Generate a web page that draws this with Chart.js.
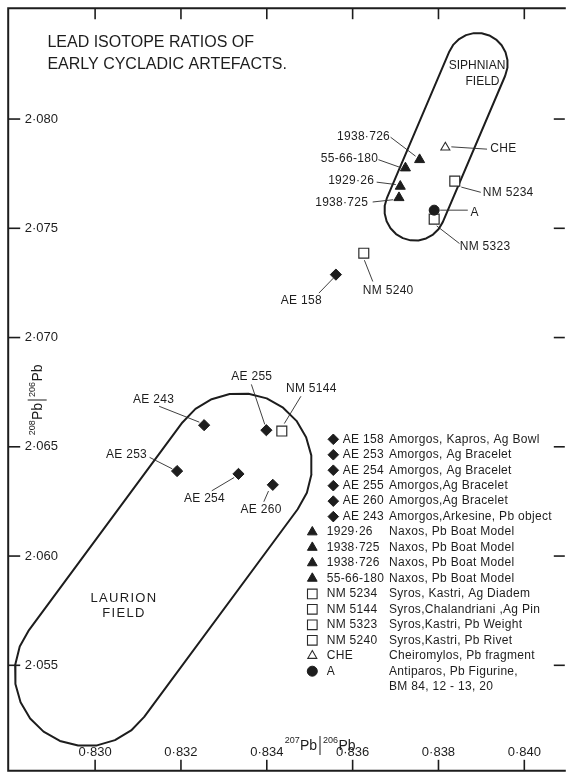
<!DOCTYPE html>
<html>
<head>
<meta charset="utf-8">
<title>Lead isotope ratios of Early Cycladic artefacts</title>
<script src="https://cdn.jsdelivr.net/npm/chart.js@4.4.1/dist/chart.umd.min.js"></script>
<style>
html,body{margin:0;padding:0;background:#ffffff;}
#wrap{position:relative;width:572px;height:779px;}
canvas{display:block;}
</style>
</head>
<body>
<div id="wrap"><canvas id="chart" width="572" height="779"></canvas></div>
<script>
// ---------- axes ----------
const xTicks = [0.830, 0.832, 0.834, 0.836, 0.838, 0.840];
const xTickLabels = ['0·830', '0·832', '0·834', '0·836', '0·838', '0·840'];
const yTicks = [2.055, 2.060, 2.065, 2.070, 2.075, 2.080];
const yTickLabels = ['2·055', '2·060', '2·065', '2·070', '2·075', '2·080'];
const xRange = [0.827975, 0.840920];
const yRange = [2.050172, 2.085073];

// ---------- series ----------
const amorgosCodes = ['AE 158', 'AE 253', 'AE 254', 'AE 255', 'AE 260', 'AE 243'];
const amorgosDesc = ['Amorgos, Kapros, Ag Bowl', 'Amorgos, Ag Bracelet', 'Amorgos, Ag Bracelet',
  'Amorgos,Ag Bracelet', 'Amorgos,Ag Bracelet', 'Amorgos,Arkesine, Pb object'];
const amorgosX = [0.83561, 0.83191, 0.83334, 0.83399, 0.83414, 0.83254];
const amorgosY = [2.07288, 2.06389, 2.06376, 2.06576, 2.06326, 2.06599];

const naxosCodes = ['1929·26', '1938·725', '1938·726', '55-66-180'];
const naxosDesc = ['Naxos, Pb Boat Model', 'Naxos, Pb Boat Model', 'Naxos, Pb Boat Model', 'Naxos, Pb Boat Model'];
const naxosX = [0.83711, 0.83708, 0.83756, 0.83723];
const naxosY = [2.07692, 2.07640, 2.07814, 2.07776];

const syrosCodes = ['NM 5234', 'NM 5144', 'NM 5323', 'NM 5240'];
const syrosDesc = ['Syros, Kastri, Ag Diadem', 'Syros,Chalandriani ,Ag Pin', 'Syros,Kastri, Pb Weight', 'Syros,Kastri, Pb Rivet'];
const syrosX = [0.83838, 0.83435, 0.83790, 0.83626];
const syrosY = [2.07716, 2.06572, 2.07542, 2.07386];

const cheCodes = ['CHE'];
const cheDesc = ['Cheiromylos, Pb fragment'];
const cheX = [0.83816];
const cheY = [2.07870];

const antiparosCodes = ['A'];
const antiparosDesc = ['Antiparos, Pb Figurine,', 'BM 84, 12 - 13, 20'];
const antiparosX = [0.83790];
const antiparosY = [2.07583];

// ---------- field outlines ----------
const siphnianX = [0.839554, 0.839605, 0.839607, 0.839562, 0.839472, 0.839343, 0.839184, 0.839006, 0.838822,
  0.838642, 0.838481, 0.838348, 0.838254, 0.836800, 0.836749, 0.836747, 0.836792, 0.836882, 0.837011, 0.837170,
  0.837348, 0.837532, 0.837712, 0.837873, 0.838005, 0.838100, 0.839554];
const siphnianY = [2.081982, 2.082336, 2.082702, 2.083057, 2.083376, 2.083639, 2.083827, 2.083927, 2.083932,
  2.083842, 2.083663, 2.083407, 2.083093, 2.076394, 2.076040, 2.075674, 2.075319, 2.075000, 2.074736, 2.074549,
  2.074449, 2.074445, 2.074534, 2.074713, 2.074969, 2.075283, 2.081982];
const laurionX = [0.834719, 0.834934, 0.835041, 0.835037, 0.834916, 0.834692, 0.834379, 0.833998, 0.833573,
  0.833135, 0.832715, 0.832338, 0.832034, 0.828459, 0.828244, 0.828137, 0.828143, 0.828263, 0.828486, 0.828799,
  0.829180, 0.829605, 0.830043, 0.830463, 0.830840, 0.831144, 0.834719];
const laurionY = [2.062141, 2.062896, 2.063739, 2.064607, 2.065440, 2.066187, 2.066789, 2.067215, 2.067428,
  2.067414, 2.067178, 2.066735, 2.066115, 2.056614, 2.055857, 2.055016, 2.054146, 2.053313, 2.052566, 2.051964,
  2.051539, 2.051326, 2.051335, 2.051575, 2.052019, 2.052639, 2.062141];

// ---------- styling / layout (not data) ----------
const INK = '#1d1d1d';
const FONT = '"Liberation Sans", Arial, Helvetica, sans-serif';

// label placement: text offset, alignment and leader line ends, in pixels relative to the mark
const labelLayout = {
  'AE 158':   {t: [-14, 26],    a: 'right',  l: [[-2.5, 3.5], [-17, 18.5]]},
  'AE 253':   {t: [-30, -16.3], a: 'right',  l: [[-27.5, -13.7], [-4.8, -2.2]]},
  'AE 254':   {t: [-34, 24.5],  a: 'center', l: [[-26.7, 16.9], [-4.3, 3.6]]},
  'AE 255':   {t: [-14.6, -53.5], a: 'center', l: [[-15, -45.8], [-1.6, -5.8]]},
  'AE 260':   {t: [-11.7, 24.9], a: 'center', l: [[-9, 16.9], [-4.3, 6.2]]},
  'AE 243':   {t: [-30, -25.6], a: 'right',  l: [[-45, -18.9], [-4.8, -3]]},
  '1929·26':  {t: [-26, -5.2],  a: 'right',  l: [[-23.6, -4.2], [-4.5, -1.8]]},
  '1938·725': {t: [-30.7, 5.3], a: 'right',  l: [[-26.3, 4.3], [-5.7, 2]]},
  '1938·726': {t: [-29.5, -22.8], a: 'right', l: [[-29, -22.5], [-4, -3.5]]},
  '55-66-180': {t: [-27.2, -9], a: 'right',  l: [[-27, -8.3], [-5, -0.5]]},
  'NM 5234':  {t: [28, 11.2],   a: 'left',   l: [[6.5, 6], [26, 11.2]]},
  'NM 5144':  {t: [29.5, -42.2], a: 'center', l: [[19.1, -34.8], [2.5, -7.5]]},
  'NM 5323':  {t: [25.5, 27.7], a: 'left',   l: [[2.5, 6.8], [25.3, 24.4]]},
  'NM 5240':  {t: [-1, 37.6],   a: 'left',   l: [[0.6, 7], [9, 28.3]]},
  'CHE':      {t: [45, 1.7],    a: 'left',   l: [[6, -0.6], [41.7, 1.7]]},
  'A':        {t: [36.3, 2.5],  a: 'left',   l: [[6, 0], [33.6, 0]]}
};

const pts = (xs, ys) => xs.map((x, i) => ({x: x, y: ys[i]}));

function seg(ctx, x1, y1, x2, y2) {
  ctx.beginPath(); ctx.moveTo(x1, y1); ctx.lineTo(x2, y2); ctx.stroke();
}

function drawIso(ctx, m1, m2, cx, base) {
  const big = '14px ' + FONT, small = '9px ' + FONT;
  ctx.font = small;
  const w1 = ctx.measureText(m1).width;
  const w2 = ctx.measureText(m2).width;
  ctx.font = big;
  const wP = ctx.measureText('Pb').width;
  const gap = 3;
  ctx.textAlign = 'left'; ctx.textBaseline = 'alphabetic';
  let x = cx - gap - wP - w1;
  ctx.font = small; ctx.fillText(m1, x, base - 7); x += w1;
  ctx.font = big; ctx.fillText('Pb', x, base);
  ctx.lineWidth = 1;
  seg(ctx, cx, base - 14, cx, base + 5);
  x = cx + gap;
  ctx.font = small; ctx.fillText(m2, x, base - 7); x += w2 + 0.5;
  ctx.font = big; ctx.fillText('Pb', x, base);
}

function marker(ctx, style, x, y, r, fill, stroke, bw) {
  ctx.save();
  ctx.fillStyle = fill; ctx.strokeStyle = stroke; ctx.lineWidth = bw;
  if (Chart.helpers && Chart.helpers.drawPoint) {
    Chart.helpers.drawPoint(ctx, {pointStyle: style, radius: r, rotation: 0, borderWidth: bw}, x, y);
  } else {
    ctx.beginPath(); ctx.arc(x, y, r, 0, Math.PI * 2); ctx.fill(); ctx.stroke();
  }
  ctx.restore();
}

const legendGroups = [
  {codes: amorgosCodes, desc: amorgosDesc, style: 'rectRot', r: 5.3, fill: INK, stroke: INK, bw: 1, indent: true},
  {codes: naxosCodes, desc: naxosDesc, style: 'triangle', r: 5.6, fill: INK, stroke: INK, bw: 1, indent: false},
  {codes: syrosCodes, desc: syrosDesc, style: 'rect', r: 6.8, fill: '#ffffff', stroke: '#2a2a2a', bw: 1.1, indent: false},
  {codes: cheCodes, desc: cheDesc, style: 'triangle', r: 5.2, fill: '#ffffff', stroke: '#2a2a2a', bw: 1.1, indent: false},
  {codes: antiparosCodes, desc: antiparosDesc, style: 'circle', r: 5, fill: INK, stroke: INK, bw: 1, indent: false}
];

const decorPlugin = {
  id: 'decor',
  beforeDraw(chart) {
    const ctx = chart.ctx;
    ctx.save(); ctx.fillStyle = '#ffffff'; ctx.fillRect(0, 0, chart.width, chart.height); ctx.restore();
  },
  afterDraw(chart) {
    const ctx = chart.ctx, a = chart.chartArea;
    const sx = chart.scales.x, sy = chart.scales.y;
    ctx.save();
    ctx.strokeStyle = INK; ctx.fillStyle = INK;
    // frame (right edge runs off the picture)
    ctx.lineWidth = 2;
    ctx.beginPath();
    ctx.moveTo(a.right + 2, a.top);
    ctx.lineTo(a.left, a.top);
    ctx.lineTo(a.left, a.bottom);
    ctx.lineTo(a.right + 2, a.bottom);
    ctx.stroke();
    // inward ticks on all four sides
    ctx.lineWidth = 1.6;
    xTicks.forEach(v => {
      const x = sx.getPixelForValue(v);
      seg(ctx, x, a.bottom, x, a.bottom - 11);
      seg(ctx, x, a.top, x, a.top + 11);
    });
    yTicks.forEach(v => {
      const y = sy.getPixelForValue(v);
      seg(ctx, a.left, y, a.left + 12, y);
      seg(ctx, a.right + 1, y, a.right - 10, y);
    });
    // tick labels
    ctx.font = '13px ' + FONT;
    ctx.textBaseline = 'middle';
    ctx.textAlign = 'center';
    xTicks.forEach((v, i) => ctx.fillText(xTickLabels[i], sx.getPixelForValue(v), a.bottom - 18));
    ctx.textAlign = 'left';
    yTicks.forEach((v, i) => ctx.fillText(yTickLabels[i], a.left + 16.5, sy.getPixelForValue(v)));
    // axis titles
    drawIso(ctx, '207', '206', 320, 750);
    ctx.save();
    ctx.translate(41.7, 400);
    ctx.rotate(-Math.PI / 2);
    drawIso(ctx, '208', '206', 0, 0);
    ctx.restore();
    // chart title
    ctx.font = '16px ' + FONT;
    ctx.textAlign = 'left'; ctx.textBaseline = 'middle';
    ctx.fillText('LEAD ISOTOPE RATIOS OF', 47.4, 42.7);
    ctx.fillText('EARLY CYCLADIC ARTEFACTS.', 47.4, 65);
    // field names
    ctx.textAlign = 'center';
    ctx.font = '12px ' + FONT;
    ctx.fillText('SIPHNIAN', 477, 66);
    ctx.fillText('FIELD', 482.5, 81.7);
    ctx.font = '13px ' + FONT;
    ctx.letterSpacing = '1.3px';
    ctx.fillText('LAURION', 124, 598.3);
    ctx.fillText('FIELD', 124, 613.3);
    ctx.letterSpacing = '0px';
    // key
    const y0 = 439.3, step = 15.46;
    let row = 0;
    ctx.font = '12px ' + FONT;
    ctx.letterSpacing = '0.3px';
    legendGroups.forEach(g => {
      g.desc.forEach((d, i) => {
        const y = y0 + step * row;
        if (i < g.codes.length) {
          marker(ctx, g.style, g.indent ? 333.3 : 312.3, y, g.r, g.fill, g.stroke, g.bw);
          ctx.fillStyle = INK; ctx.textAlign = 'left'; ctx.textBaseline = 'middle';
          ctx.fillText(g.codes[i], g.indent ? 342.7 : 326.7, y);
        }
        ctx.fillStyle = INK; ctx.textAlign = 'left'; ctx.textBaseline = 'middle';
        ctx.fillText(d, 389, y);
        row++;
      });
    });
    ctx.letterSpacing = '0px';
    ctx.restore();
  }
};

const pointLabelPlugin = {
  id: 'pointLabels',
  afterDatasetsDraw(chart) {
    const ctx = chart.ctx;
    ctx.save();
    ctx.strokeStyle = '#2a2a2a'; ctx.fillStyle = INK; ctx.lineWidth = 0.9;
    ctx.font = '12px ' + FONT;
    ctx.letterSpacing = '0.3px';
    ctx.textBaseline = 'middle';
    chart.data.datasets.forEach((ds, di) => {
      if (!ds.codes) return;
      const meta = chart.getDatasetMeta(di);
      meta.data.forEach((el, i) => {
        const L = labelLayout[ds.codes[i]];
        if (!L) return;
        seg(ctx, el.x + L.l[0][0], el.y + L.l[0][1], el.x + L.l[1][0], el.y + L.l[1][1]);
        ctx.textAlign = L.a;
        ctx.fillText(ds.codes[i], el.x + L.t[0], el.y + L.t[1]);
      });
    });
    ctx.letterSpacing = '0px';
    ctx.restore();
  }
};

new Chart(document.getElementById('chart'), {
  type: 'scatter',
  data: {
    datasets: [
      {label: 'Antiparos', codes: antiparosCodes, data: pts(antiparosX, antiparosY), pointStyle: 'circle',
        pointRadius: 5, pointBackgroundColor: INK, pointBorderColor: INK, pointBorderWidth: 1},
      {label: 'Amorgos', codes: amorgosCodes, data: pts(amorgosX, amorgosY), pointStyle: 'rectRot',
        pointRadius: 5.6, pointBackgroundColor: INK, pointBorderColor: INK, pointBorderWidth: 1},
      {label: 'Naxos', codes: naxosCodes, data: pts(naxosX, naxosY), pointStyle: 'triangle',
        pointRadius: 5.8, pointBackgroundColor: INK, pointBorderColor: INK, pointBorderWidth: 1},
      {label: 'Cheiromylos', codes: cheCodes, data: pts(cheX, cheY), pointStyle: 'triangle',
        pointRadius: 5.2, pointBackgroundColor: '#ffffff', pointBorderColor: '#2a2a2a', pointBorderWidth: 1.1},
      {label: 'Syros', codes: syrosCodes, data: pts(syrosX, syrosY), pointStyle: 'rect',
        pointRadius: 7, pointBackgroundColor: '#ffffff', pointBorderColor: '#2a2a2a', pointBorderWidth: 1.2},
      {label: 'Siphnian field', data: pts(siphnianX, siphnianY), showLine: true, pointRadius: 0,
        borderColor: INK, borderWidth: 2, tension: 0, fill: false, borderJoinStyle: 'round'},
      {label: 'Laurion field', data: pts(laurionX, laurionY), showLine: true, pointRadius: 0,
        borderColor: INK, borderWidth: 2, tension: 0, fill: false, borderJoinStyle: 'round'}
    ]
  },
  options: {
    responsive: false,
    animation: false,
    devicePixelRatio: 1,
    layout: {padding: {left: 5, top: 4, right: 0, bottom: 4}},
    plugins: {legend: {display: false}, tooltip: {enabled: false}, title: {display: false}},
    events: [],
    scales: {
      x: {type: 'linear', min: xRange[0], max: xRange[1], display: false},
      y: {type: 'linear', min: yRange[0], max: yRange[1], display: false}
    }
  },
  plugins: [decorPlugin, pointLabelPlugin]
});
</script>
</body>
</html>
